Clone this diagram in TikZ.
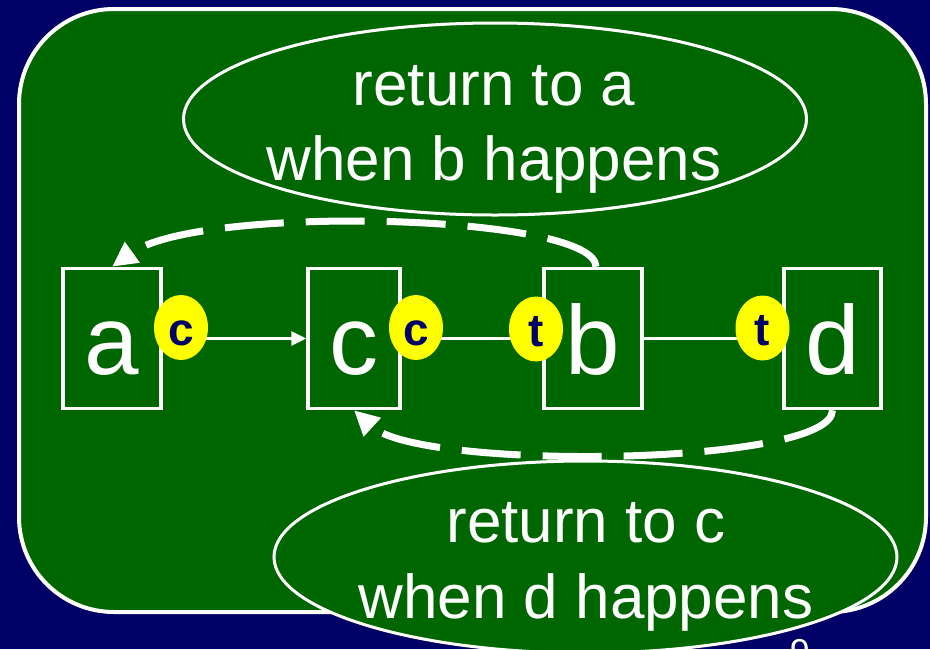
\documentclass[tikz,border=0pt]{standalone}
\usepackage{fontspec}
\setmainfont{Liberation Sans}
\usetikzlibrary{arrows.meta,shapes.geometric}
\definecolor{navybg}{RGB}{0,0,102}
\definecolor{slidegreen}{RGB}{0,102,0}
\definecolor{tagyellow}{RGB}{255,255,0}
\begin{document}
\begin{tikzpicture}[x=1pt,y=-1pt,
  panel/.style={draw=white,line width=4pt,fill=slidegreen,rounded corners=95pt,
    minimum width=907pt,minimum height=603pt,inner sep=0pt},
  bubble/.style={ellipse,draw=white,line width=3pt,fill=slidegreen,
    minimum width=623pt,minimum height=192pt,inner sep=0pt},
  bubbletext/.style={text=white,font=\fontsize{62}{75}\selectfont,anchor=base,inner sep=0pt},
  statebox/.style={draw=white,line width=3.5pt,inner sep=0pt,minimum height=140pt,
    text height=71pt,text depth=0pt,text=white,font=\fontsize{98}{110}\selectfont},
  tag/.style={ellipse,fill=tagyellow,minimum width=54pt,minimum height=65pt,inner sep=0pt,
    text height=35pt,text depth=0pt,text=navybg,font=\fontsize{46}{50}\selectfont\bfseries},
  thinline/.style={draw=white,line width=3pt},
  dashline/.style={draw=white,line width=7pt,dash pattern=on 59pt off 22pt,
    -{Triangle[length=25pt,width=24pt]}}
]
\useasboundingbox (0,0) rectangle (930,649);
\clip (0,0) rectangle (930,649);
\fill[navybg] (0,0) rectangle (930,649);

\node[panel] (frame) at (472.5,310.5) {};

% top bubble
\node[bubble] (topbubble) at (495,119) {};
\node[bubbletext] (toptext1) at (494,105) {return to a};
\node[bubbletext] (toptext2) at (494,180) {when b happens};

% state boxes
\node[statebox,minimum width=98pt] (a) at (112,338.5) {a};
\node[statebox,minimum width=92pt] (c) at (354,338.5) {c};
\node[statebox,minimum width=98pt] (b) at (593,338.5) {b};
\node[statebox,minimum width=97pt] (d) at (832.5,338.5) {d};

% connectors
\draw[thinline,-{Triangle[length=15pt,width=14pt]}] (a.east) -- (c.west);
\draw[thinline] (c.east) -- (b.west);
\draw[thinline] (b.east) -- (d.west);

% tags
\node[tag] (tagc1) at (181,327.5) {c};
\node[tag] (tagc2) at (416,327.5) {c};
\node[tag] (tagt1) at (536,329) {t};
\node[tag] (tagt2) at (762.5,328) {t};

% dashed return arrows
\draw[dashline] ([xshift=3pt]b.north) .. controls +(0,-53) and +(88,-63) .. (a.north);
\draw[dashline] (d.south) .. controls +(0,56) and +(66,61) .. (c.south);

% bottom bubble
\node[bubble] (botbubble) at (585.5,557) {};
\node[bubbletext] (bottext1) at (586,542) {return to c};
\node[bubbletext] (bottext2) at (586,618) {when d happens};

% partial page number
\node[text=white,font=\fontsize{36}{40}\selectfont,anchor=base,inner sep=0pt] (pagenum) at (800,664) {9};
\end{tikzpicture}
\end{document}
